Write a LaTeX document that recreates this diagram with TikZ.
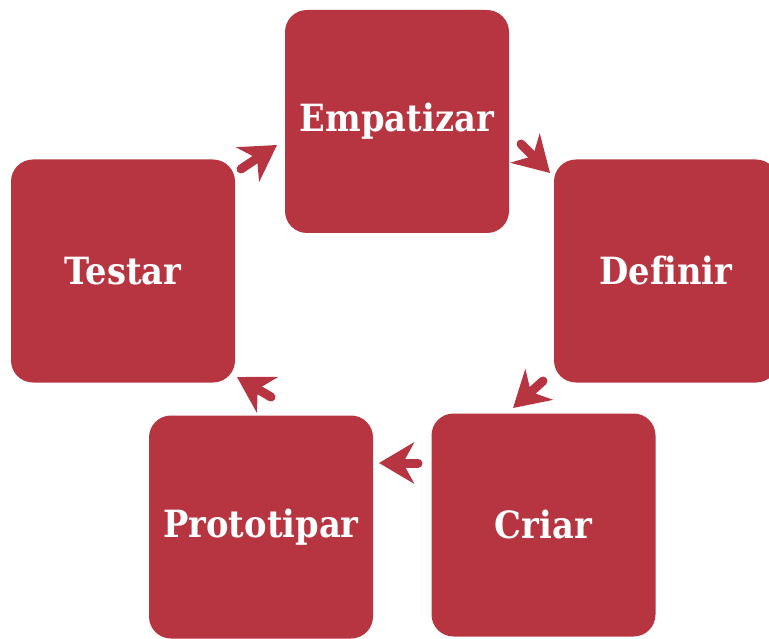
\documentclass[tikz,border=0pt]{standalone}
\usepackage{fontspec}
\setmainfont{DejaVu Serif Condensed}[Ligatures=NoCommon]
\usetikzlibrary{arrows.meta}
\definecolor{boxred}{RGB}{183,53,64}
\tikzset{
  stage/.style={fill=boxred, rounded corners=22pt, minimum width=224pt, minimum height=223pt,
    inner sep=0pt, text=white, font=\fontsize{37.5}{44}\selectfont\bfseries},
  flow/.style={draw=boxred, line width=9pt, line cap=round,
    -{Stealth[length=35pt,width=41pt,inset=11pt]}}
}
\begin{document}
\begin{tikzpicture}[x=1pt,y=-1pt]
\clip (0,0) rectangle (769,639);
\useasboundingbox (0,0) rectangle (769,639);
\node[stage] (emp) at (397,121.5) {Empatizar};
\node[stage] (def) at (666,271) {Definir};
\node[stage] (tes) at (123,271) {Testar};
\node[stage] (pro) at (261,527) {Prototipar};
\node[stage] (cri) at (543.5,525) {Criar};
\coordinate (a1s) at (241,169); \coordinate (a1e) at (277,145);
\coordinate (a2s) at (521,144); \coordinate (a2e) at (550,173);
\coordinate (a3s) at (543,381); \coordinate (a3e) at (513,408);
\coordinate (a4s) at (418,463); \coordinate (a4e) at (379,463);
\coordinate (a5s) at (271,397); \coordinate (a5e) at (237,377);
\draw[flow] (a1s) -- (a1e);
\draw[flow] (a2s) -- (a2e);
\draw[flow] (a3s) -- (a3e);
\draw[flow] (a4s) -- (a4e);
\draw[flow] (a5s) -- (a5e);
\end{tikzpicture}
\end{document}
